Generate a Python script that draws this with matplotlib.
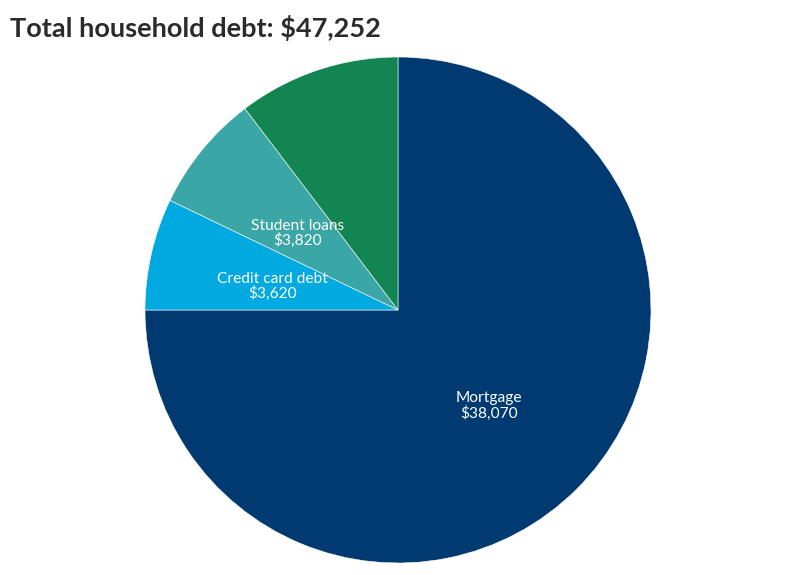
import matplotlib.pyplot as plt

categories = ['Mortgage', 'Credit card debt', 'Student loans', 'Other']
values = [38070, 3620, 3820, 5250]
shown = [True, True, True, False]
colors = ['#003a70', '#00a9e0', '#3aa6a5', '#128552']
title = 'Total household debt: $47,252'

labels = []
for name, v, s in zip(categories, values, shown):
    labels.append('{}\n${:,}'.format(name, v) if s else '')

fig = plt.figure(figsize=(7.94, 5.75), dpi=100)
ax = fig.add_axes([(398 - 253) / 794, (575 - 563) / 575, 506 / 794, 506 / 575])
wedges, texts = ax.pie(values, labels=labels, colors=colors, startangle=90,
                       counterclock=False, labeldistance=0.51,
                       wedgeprops=dict(edgecolor='white', linewidth=0.4),
                       textprops=dict(color='white', fontsize=11.2, family='Lato',
                                      ha='center', va='center', linespacing=1.05))
# labels sit a touch lower in the original
for t in texts:
    t.set_y(t.get_position()[1] - 0.02)

ax.set_xlim(-1, 1)
ax.set_ylim(-1, 1)
ax.set_aspect('equal')
ax.axis('off')

fig.text(10 / 794, 1 - 28 / 575, title, fontsize=19.5, fontweight='bold',
         family='Lato', color='#2b2b2b', va='center', ha='left')

fig.savefig('out.png', dpi=100)
